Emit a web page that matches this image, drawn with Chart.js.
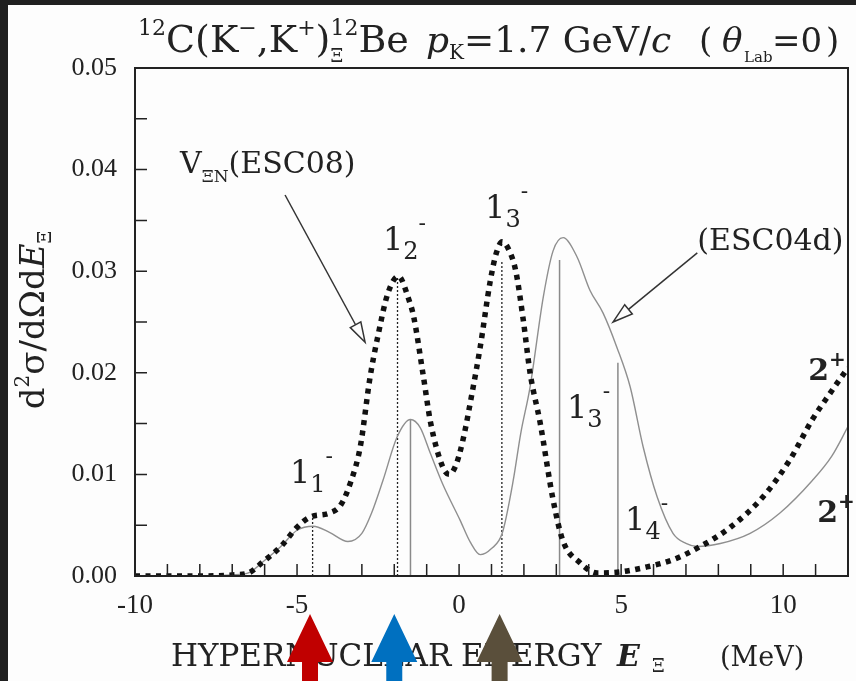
<!DOCTYPE html>
<html>
<head>
<meta charset="utf-8">
<script src="https://cdn.jsdelivr.net/npm/chart.js@4.4.1/dist/chart.umd.min.js"></script>
<style>
  html, body { margin: 0; padding: 0; background: #202020; }
  #wrap { position: relative; width: 856px; height: 681px; }
</style>
</head>
<body>
<div id="wrap"><canvas id="xsChart" width="856" height="681"></canvas></div>
<script>
// V_XiN (ESC08) spectrum, dotted curve
const esc08Energy = [-10, -9, -8, -7, -6.5, -6.05, -5.5, -5.0, -4.6, -4.0, -3.65, -3.35, -3.05, -2.75, -2.5, -2.2, -1.87,
  -1.55, -1.4, -1.1, -0.88, -0.5, -0.3, -0.1, 0.12, 0.4, 0.65, 0.96, 1.15, 1.33, 1.55, 1.75, 1.98, 2.19, 2.5, 2.9, 3.2,
  3.73, 4.26, 4.97, 5.8, 6.6, 7.44, 8.37, 9.38, 10.2, 10.9, 11.45, 12];
const esc08Value = [0, 0, 0, 0.0001, 0.0003, 0.0014, 0.0029, 0.0048, 0.0058, 0.0062, 0.0070, 0.0092, 0.0127, 0.0195, 0.0237, 0.0278, 0.0295,
  0.0272, 0.0255, 0.0196, 0.0151, 0.0107, 0.0100, 0.0109, 0.0134, 0.0180, 0.0225, 0.0290, 0.0318, 0.0329, 0.0320, 0.0300, 0.0252, 0.0200, 0.0151, 0.0075, 0.0035,
  0.0013, 0.0003, 0.0004, 0.0009, 0.0016, 0.0029, 0.0048, 0.0078, 0.0114, 0.0154, 0.0180, 0.0205];

// ESC04d spectrum, thin solid curve
const esc04Energy = [-10, -8, -7, -6.5, -6.05, -5.5, -5.0, -4.5, -4.0, -3.43, -3.0, -2.7, -2.35, -1.91, -1.5, -1.2, -0.89, -0.5, 0.03,
  0.35, 0.65, 1.0, 1.33, 1.67, 1.9, 2.19, 2.6, 2.9, 3.21, 3.64, 4.04, 4.44, 4.87, 5.28, 5.68, 6.11, 6.6, 7.0, 7.35, 8.06, 8.98, 9.9, 10.9, 11.5, 12];
const esc04Value = [0, 0, 0.0001, 0.0003, 0.0014, 0.0029, 0.0045, 0.0049, 0.0043, 0.0034, 0.0042, 0.0062, 0.0094, 0.0137, 0.0154, 0.0146, 0.0121, 0.0090, 0.0055,
  0.0033, 0.0021, 0.0027, 0.0042, 0.0094, 0.0140, 0.0186, 0.0275, 0.0320, 0.0333, 0.0314, 0.0281, 0.0259, 0.0225, 0.0186, 0.0127, 0.0078, 0.0042, 0.0032, 0.0029, 0.0032, 0.0042, 0.0062, 0.0094, 0.0118, 0.0147];

// 1- levels (sticks)
const esc08Levels = [-4.52, -1.9, 1.32];
const esc08Strength = [0.0058, 0.0294, 0.0311];
const esc04Levels = [-1.5, 3.1, 4.9];
const esc04Strength = [0.0154, 0.0311, 0.0210];

const xTickLabels = [-10, -5, 0, 5, 10];
const yTickLabels = [0, 0.01, 0.02, 0.03, 0.04, 0.05];

// coloured markers under the axis
const arrowEnergies = [-4.6, -2.0, 1.25];
const arrowColors = ["#c00000", "#0070c0", "#5a4f3b"];

const DJ = '"DejaVu Serif", serif';
const LS = '"Liberation Serif", serif';
const INK = "#222";
const font = (size, style) => (style ? style + " " : "") + size + "px " + DJ;

function pts(xs, ys) {
    return xs.map((x, i) => ({ x: x, y: ys[i] }));
}

// draw a row of text pieces (sub/superscripts via dy)
function drawRuns(ctx, x, y, runs) {
    ctx.fillStyle = INK;
    ctx.textAlign = "left";
    ctx.textBaseline = "alphabetic";
    for (const r of runs) {
        if (r.x !== undefined) x = r.x;
        ctx.font = font(r.s, r.st);
        ctx.fillText(r.t, x, y + (r.dy || 0));
        let w = ctx.measureText(r.t).width;
        if (r.under) {
            ctx.font = font(r.under.s, r.under.st);
            ctx.fillText(r.under.t, x, y + r.under.dy);
            w = Math.max(w, ctx.measureText(r.under.t).width);
        }
        x += w + (r.gap || 0);
    }
    return x;
}

function runsWidth(ctx, runs) {
    let w = 0;
    for (const r of runs) {
        ctx.font = font(r.s, r.st);
        w += ctx.measureText(r.t).width + (r.gap || 0);
    }
    return w;
}

function openArrow(ctx, x1, y1, x2, y2) {
    const a = Math.atan2(y2 - y1, x2 - x1);
    const len = 20, half = 6;
    const bx = x2 - len * Math.cos(a), by = y2 - len * Math.sin(a);
    ctx.strokeStyle = "#333";
    ctx.lineWidth = 1.5;
    ctx.beginPath();
    ctx.moveTo(x1, y1);
    ctx.lineTo(bx, by);
    ctx.stroke();
    ctx.beginPath();
    ctx.moveTo(x2, y2);
    ctx.lineTo(bx + half * Math.sin(a), by - half * Math.cos(a));
    ctx.lineTo(bx - half * Math.sin(a), by + half * Math.cos(a));
    ctx.closePath();
    ctx.fillStyle = "#fdfdfd";
    ctx.fill();
    ctx.stroke();
}

const backdrop = {
    id: "backdrop",
    beforeDraw(chart) {
        const ctx = chart.ctx;
        ctx.save();
        ctx.fillStyle = "#202020";
        ctx.fillRect(0, 0, chart.width, chart.height);
        ctx.fillStyle = "#fdfdfd";
        ctx.fillRect(8, 5, chart.width - 8, chart.height - 5);
        ctx.restore();
    }
};

const decorations = {
    id: "decorations",
    afterDraw(chart) {
        const ctx = chart.ctx;
        const xs = chart.scales.x, ys = chart.scales.y;
        const a = chart.chartArea;
        const X = v => xs.getPixelForValue(v);
        const Y = v => ys.getPixelForValue(v);
        ctx.save();

        // frame + inward ticks
        ctx.strokeStyle = INK;
        ctx.lineWidth = 2;
        ctx.strokeRect(a.left, a.top, a.right - a.left, a.bottom - a.top);
        ctx.lineWidth = 1.5;
        ctx.beginPath();
        for (let e = -9; e <= 11; e++) {
            ctx.moveTo(X(e), a.bottom);
            ctx.lineTo(X(e), a.bottom - 12);
        }
        for (let k = 1; k <= 9; k++) {
            ctx.moveTo(a.left, Y(k * 0.005));
            ctx.lineTo(a.left + 12, Y(k * 0.005));
        }
        ctx.stroke();

        // title
        drawRuns(ctx, 138, 52, [
            { t: "12", s: 22, dy: -17 }, { t: "C(K", s: 38 }, { t: "\u2212", s: 22, dy: -17 },
            { t: ",K", s: 38 }, { t: "+", s: 22, dy: -17 }, { t: ")", s: 38 },
            { t: "12", s: 22, dy: -17, under: { t: "\u039E", s: 18, dy: 10 } }, { t: "Be", s: 38 }
        ]);
        drawRuns(ctx, 426, 52, [
            { t: "p", s: 36, st: "italic" }, { t: "K", s: 20, dy: 7 }, { t: "=1.7 GeV/", s: 36 }, { t: "c", s: 36, st: "italic" }
        ]);
        drawRuns(ctx, 699, 52, [
            { t: "(", s: 34 }, { t: "\u03B8", s: 34, st: "italic", x: 722 }, { t: "Lab", s: 15, dy: 10, x: 744 },
            { t: "=0", s: 34, x: 772 }, { t: ")", s: 34, x: 826 }
        ]);

        // x axis title
        drawRuns(ctx, 171, 666, [{ t: "HYPERNUCLEAR ENERGY", s: 31 }]);
        drawRuns(ctx, 617, 666, [{ t: "E", s: 30, st: "italic bold" }, { t: "\u039E", s: 18, dy: 6, x: 652 }]);
        drawRuns(ctx, 720, 666, [{ t: "(MeV)", s: 27 }]);

        // y axis title (rotated)
        const yRuns = [
            { t: "d", s: 34 }, { t: "2", s: 20, dy: -15 }, { t: "\u03C3/d\u03A9d", s: 34 },
            { t: "E", s: 34, st: "italic" }, { t: "\u039E", s: 18, dy: 7 }
        ];
        ctx.save();
        ctx.translate(44, 320);
        ctx.rotate(-Math.PI / 2);
        drawRuns(ctx, -runsWidth(ctx, yRuns) / 2, 0, yRuns);
        ctx.restore();

        // curve labels
        drawRuns(ctx, X(-8.61), Y(0.0397), [{ t: "V", s: 30 }, { t: "\u039EN", s: 17, dy: 9 }, { t: "(ESC08)", s: 30 }]);
        openArrow(ctx, X(-5.37), Y(0.0375), X(-2.9), Y(0.023));
        drawRuns(ctx, X(7.35), Y(0.0321), [{ t: "(ESC04d)", s: 30 }]);
        openArrow(ctx, X(7.35), Y(0.0318), X(4.75), Y(0.025));

        const lvl = (e, v, n) => drawRuns(ctx, X(e), Y(v), [
            { t: "1", s: 32 }, { t: n, s: 24, dy: 9 }, { t: "-", s: 22, dy: -20 }
        ]);
        lvl(-5.22, 0.0092, "1");
        lvl(-2.35, 0.0321, "2");
        lvl(0.80, 0.0352, "3");
        lvl(3.33, 0.0156, "3");
        lvl(5.12, 0.0045, "4");
        drawRuns(ctx, X(10.77), Y(0.0193), [{ t: "2", s: 30, st: "bold" }, { t: "+", s: 20, st: "bold", dy: -14 }]);
        drawRuns(ctx, X(11.05), Y(0.0053), [{ t: "2", s: 30, st: "bold" }, { t: "+", s: 20, st: "bold", dy: -14 }]);

        // coloured arrows below the axis
        arrowEnergies.forEach((e, i) => {
            const cx = X(e);
            ctx.fillStyle = arrowColors[i];
            ctx.beginPath();
            ctx.moveTo(cx, 614);
            ctx.lineTo(cx + 23, 662);
            ctx.lineTo(cx + 8, 662);
            ctx.lineTo(cx + 8, 681);
            ctx.lineTo(cx - 8, 681);
            ctx.lineTo(cx - 8, 662);
            ctx.lineTo(cx - 23, 662);
            ctx.closePath();
            ctx.fill();
        });
        ctx.restore();
    }
};

const stickSets = [];
esc08Levels.forEach((e, i) => stickSets.push({
    data: [{ x: e, y: 0 }, { x: e, y: esc08Strength[i] }],
    borderColor: INK, borderWidth: 1.3, borderDash: [2, 2], tension: 0
}));
esc04Levels.forEach((e, i) => stickSets.push({
    data: [{ x: e, y: 0 }, { x: e, y: esc04Strength[i] }],
    borderColor: "#8a8a8a", borderWidth: 1.5, tension: 0
}));

const ctx = document.getElementById("xsChart").getContext("2d");
new Chart(ctx, {
    type: "line",
    data: {
        datasets: [
            {
                label: "V_XiN (ESC08)",
                data: pts(esc08Energy, esc08Value),
                borderColor: "#111",
                borderWidth: 5.5,
                borderDash: [5, 5.5],
                cubicInterpolationMode: "monotone"
            },
            {
                label: "ESC04d",
                data: pts(esc04Energy, esc04Value),
                borderColor: "#8f8f8f",
                borderWidth: 1.4,
                cubicInterpolationMode: "monotone"
            },
            ...stickSets
        ]
    },
    options: {
        responsive: false,
        animation: false,
        devicePixelRatio: 1,
        elements: { point: { radius: 0 } },
        layout: { padding: { left: 0, top: 68, right: 8, bottom: 0 } },
        plugins: { legend: { display: false }, tooltip: { enabled: false } },
        scales: {
            x: {
                type: "linear",
                min: -10,
                max: 12,
                afterBuildTicks: s => { s.ticks = xTickLabels.map(v => ({ value: v })); },
                afterFit: s => { s.height = 105; },
                grid: { display: false, drawTicks: false },
                border: { display: false },
                ticks: {
                    color: INK,
                    font: { family: LS, size: 27 },
                    padding: 14,
                    maxRotation: 0,
                    autoSkip: false,
                    callback: v => String(v)
                }
            },
            y: {
                type: "linear",
                min: 0,
                max: 0.05,
                afterBuildTicks: s => { s.ticks = yTickLabels.map(v => ({ value: v })); },
                afterFit: s => { s.width = 135; },
                grid: { display: false, drawTicks: false },
                border: { display: false },
                ticks: {
                    color: INK,
                    font: { family: LS, size: 26 },
                    padding: 18,
                    autoSkip: false,
                    callback: v => v.toFixed(2)
                }
            }
        }
    },
    plugins: [backdrop, decorations]
});
</script>
</body>
</html>
